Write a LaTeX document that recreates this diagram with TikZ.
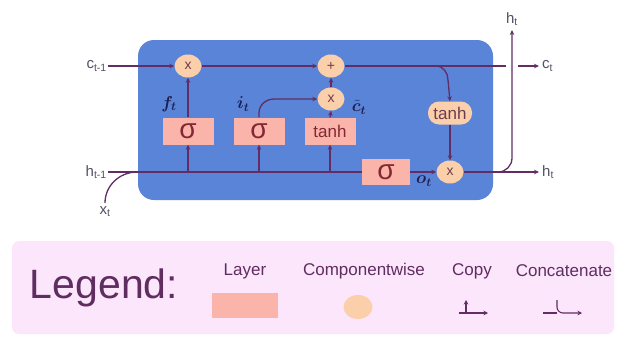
\documentclass[tikz,border=0pt]{standalone}
\usepackage{amsmath,bm}
\usepackage{fontspec}
\setmainfont{Liberation Sans}
\usetikzlibrary{arrows.meta,shapes.geometric}
\definecolor{cellblue}{RGB}{90,132,216}
\definecolor{peach}{RGB}{250,207,170}
\definecolor{pinkbox}{RGB}{250,180,170}
\definecolor{linec}{RGB}{98,44,100}
\definecolor{labelc}{RGB}{85,80,100}
\definecolor{navy}{RGB}{30,30,80}
\definecolor{sigc}{RGB}{130,40,50}
\definecolor{opc}{RGB}{110,60,80}
\definecolor{legbg}{RGB}{252,230,252}
\definecolor{legtext}{RGB}{95,45,95}
\begin{document}
\begin{tikzpicture}[x=1pt,y=1pt,
  line/.style={draw=linec, line width=1.3pt},
  arr/.style={line, -{Stealth[length=5pt,width=4.5pt]}},
  op/.style={ellipse, fill=peach, minimum width=27pt, minimum height=23pt, inner sep=0pt, font=\fontsize{14}{14}\selectfont, text=opc},
  pill/.style={rectangle, rounded corners=11pt, fill=peach, minimum width=44pt, minimum height=23pt, inner sep=0pt, font=\fontsize{17}{17}\selectfont, text=opc},
  layerbox/.style={rectangle, fill=pinkbox, minimum width=51pt, minimum height=27pt, inner sep=0pt, text=sigc},
  sig/.style={layerbox, font=\fontsize{28}{28}\selectfont},
  tbox/.style={layerbox, font=\fontsize{17}{17}\selectfont},
  lbl/.style={font=\fontsize{15}{15}\selectfont, text=labelc, inner sep=1pt},
  gate/.style={font=\fontsize{17}{17}\selectfont, text=navy, inner sep=0pt},
  leg/.style={font=\fontsize{17}{17}\selectfont, text=legtext, inner sep=0pt},
  legsym/.style={draw=linec, line width=1.1pt},
  legarr/.style={legsym, -{Stealth[length=4.5pt,width=4.5pt]}}
]
\useasboundingbox (0,0) rectangle (626,-338);
\fill[white] (0,0) rectangle (626,-338);
\fill[cellblue, rounded corners=16pt] (138,-40) rectangle (493,-200);
\fill[legbg, rounded corners=7pt] (12,-241) rectangle (614,-334);

% operator nodes
\node[op] (fx) at (188,-66) {x};
\node[op] (plus) at (331,-66) {+};
\node[op] (ix) at (331,-99) {x};
\node[op] (hx) at (450,-172) {x};
\node[pill] (tanhO) at (450,-113) {tanh};

% layers
\node[sig] (fbox) at (188,-131) {σ};
\node[sig] (ibox) at (259,-131) {σ};
\node[tbox] (cbox) at (330,-131) {tanh};
\node[sig, minimum width=48pt, minimum height=26pt] (obox) at (386,-172) {σ};

% inputs / outputs
\coordinate (cin) at (108,-66);
\coordinate (hin) at (108,-172);
\coordinate (xin) at (105,-203);
\coordinate (cend) at (506,-66);
\coordinate (ctstart) at (518,-66);
\coordinate (ctend) at (539,-66);
\coordinate (hend) at (539,-172);
\coordinate (htop) at (512,-30);

\node[lbl, anchor=east] (clab) at (cin) {c\textsubscript{t-1}};
\node[lbl, anchor=east] (hlab) at (hin) {h\textsubscript{t-1}};
\node[lbl, anchor=north] (xlab) at ([yshift=-2pt]xin) {x\textsubscript{t}};
\node[lbl, anchor=west] (ctlab) at ([xshift=2pt]ctend) {c\textsubscript{t}};
\node[lbl, anchor=west] (htlab) at ([xshift=2pt]hend) {h\textsubscript{t}};
\node[lbl, anchor=south] (htoplab) at ([yshift=3pt]htop) {h\textsubscript{t}};

% gate labels
\node[gate] (flab) at (169,-104) {$\bm{f_t}$};
\node[gate] (ilab) at (243,-104) {$\bm{i_t}$};
\node[gate] (ctil) at (359,-107) {$\bm{\tilde{c}_t}$};
\node[gate] (olab) at (424,-181) {$\bm{o_t}$};

% cell state line
\draw[arr] (cin) -- (fx);
\draw[arr] (fx) -- (plus);
\draw[line] (plus) -- (cend);
\draw[arr] (ctstart) -- (ctend);
\draw[arr] (436,-66) to[out=0,in=90] (448,-80) -- (tanhO.north);
\draw[arr] (tanhO.south) -- (hx.north);

% hidden / input line
\draw[line] (hin) -- (obox.west);
\draw[line] (xin) to[out=90,in=180] (137,-172);
\draw[arr] (188,-172) -- (fbox.south);
\draw[arr] (259,-172) -- (ibox.south);
\draw[arr] (330,-172) -- (cbox.south);
\draw[arr] (obox.east) -- (hx.west);
\draw[arr] (hx.east) -- (hend);
\draw[arr] (498,-172) to[out=0,in=-90] (512,-158) -- (htop);

% gates up
\draw[arr] (fbox.north) -- (fx.south);
\draw[arr] (ibox.north) -- (259,-113) to[out=90,in=180] (274,-99) -- (ix.west);
\draw[arr] (cbox.north) -- (ix.south);
\draw[arr] (ix.north) -- (plus.south);

% legend
\node[font=\fontsize{41}{41}\selectfont, text=legtext, inner sep=0pt] (legend) at (104,-288) {Legend:};
\node[leg] (tlayer) at (245,-271) {Layer};
\node[leg] (tcomp) at (364,-271) {Componentwise};
\node[leg] (tcopy) at (472,-271) {Copy};
\node[leg] (tconc) at (564,-271) {Concatenate};
\node[rectangle, fill=pinkbox, minimum width=66pt, minimum height=25pt, inner sep=0pt] (lrect) at (245,-305.5) {};
\node[ellipse, fill=peach, minimum width=29pt, minimum height=24pt, inner sep=0pt] (lcirc) at (358,-307) {};
\draw[legsym] (459,-313) -- (470,-313);
\draw[legarr] (466,-313) -- (466,-300);
\draw[legarr] (466,-313) to[out=0,in=180] (474,-313) -- (488,-313);
\draw[legsym] (543,-313) -- (557,-313);
\draw[legarr] (557,-300) -- (557,-307) to[out=-90,in=180] (563,-313) -- (582,-313);
\end{tikzpicture}
\end{document}
